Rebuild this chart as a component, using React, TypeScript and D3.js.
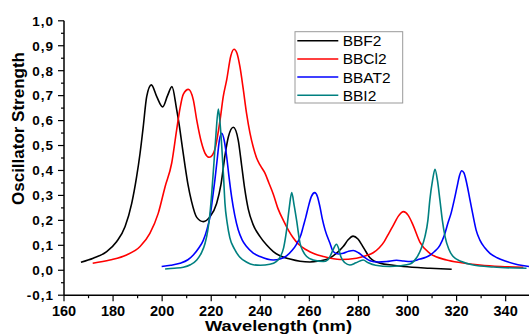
import React from "react";
import * as d3 from "d3";

const seriesNames = ["BBF2", "BBCl2", "BBAT2", "BBI2"];
const seriesColors = ["#000000", "#ff0000", "#0000ff", "#008080"];

const bbf2: [number, number][] = [
  [166.9, 0.032], [171.9, 0.048], [177.4, 0.075], [181.5, 0.115], [184.9, 0.175], [187.6, 0.268],
  [189.6, 0.375], [191.0, 0.469], [192.3, 0.576], [193.7, 0.696], [195.6, 0.743], [197.8, 0.696],
  [200.2, 0.655], [202.2, 0.700], [204.0, 0.736], [205.9, 0.645], [207.0, 0.580], [208.0, 0.510],
  [209.3, 0.420], [210.5, 0.345], [212.0, 0.275], [214.1, 0.212], [216.8, 0.195], [219.5, 0.215],
  [222.2, 0.268], [224.0, 0.345], [225.6, 0.460], [227.0, 0.535], [229.0, 0.573], [231.0, 0.522],
  [232.4, 0.420], [233.6, 0.330], [235.1, 0.245], [237.0, 0.185], [239.9, 0.135], [242.6, 0.101],
  [245.3, 0.075], [248.0, 0.058], [252.1, 0.045], [256.2, 0.036], [260.2, 0.033], [264.3, 0.038],
  [267.5, 0.045], [269.7, 0.058], [271.8, 0.075], [273.8, 0.095], [275.8, 0.122], [277.8, 0.137],
  [279.8, 0.125], [281.5, 0.100], [283.0, 0.075], [284.7, 0.050], [288.8, 0.028], [294.2, 0.020],
  [298.3, 0.015], [309.1, 0.008], [318.0, 0.004],
];

const bbcl2: [number, number][] = [
  [171.7, 0.028], [178.7, 0.041], [185.5, 0.061], [191.0, 0.095], [195.0, 0.148], [198.4, 0.228],
  [201.2, 0.335], [203.9, 0.430], [205.9, 0.562], [207.3, 0.650], [208.6, 0.705], [210.7, 0.725],
  [212.7, 0.683], [214.1, 0.602], [216.1, 0.509], [217.5, 0.469], [219.2, 0.453], [220.5, 0.462],
  [221.5, 0.485], [223.6, 0.602], [224.9, 0.696], [226.3, 0.763], [228.0, 0.860], [229.3, 0.886],
  [230.5, 0.870], [231.7, 0.816], [233.0, 0.730], [234.4, 0.629], [235.8, 0.550], [237.1, 0.495],
  [238.5, 0.450], [240.0, 0.420], [241.9, 0.389], [243.5, 0.350], [245.3, 0.305], [247.3, 0.245],
  [249.4, 0.200], [251.5, 0.160], [253.4, 0.130], [255.5, 0.105], [258.9, 0.081], [262.0, 0.066],
  [265.7, 0.055], [272.5, 0.043], [279.2, 0.048], [283.0, 0.058], [286.0, 0.070], [288.5, 0.090],
  [290.5, 0.115], [292.5, 0.150], [294.2, 0.180], [296.5, 0.220], [298.3, 0.235], [300.3, 0.220],
  [302.3, 0.180], [305.1, 0.112], [309.1, 0.068], [315.9, 0.041], [322.0, 0.030], [329.5, 0.021],
  [338.0, 0.015], [347.2, 0.012],
];

const bbat2: [number, number][] = [
  [199.8, 0.015], [203.5, 0.020], [207.3, 0.028], [210.5, 0.042], [212.7, 0.061], [215.0, 0.090],
  [216.8, 0.121], [218.3, 0.165], [219.5, 0.215], [220.5, 0.285], [221.5, 0.362], [222.5, 0.450],
  [223.3, 0.520], [224.3, 0.549], [225.3, 0.520], [226.3, 0.455], [227.3, 0.370], [228.3, 0.295],
  [229.6, 0.220], [231.0, 0.162], [232.6, 0.122], [234.4, 0.095], [237.0, 0.070], [239.9, 0.055],
  [245.3, 0.041], [248.0, 0.045], [250.7, 0.058], [253.0, 0.080], [254.8, 0.105], [256.5, 0.140],
  [257.5, 0.175], [258.6, 0.215], [259.6, 0.255], [260.8, 0.295], [262.2, 0.311], [263.3, 0.295],
  [264.3, 0.255], [265.3, 0.205], [266.4, 0.162], [268.4, 0.108], [269.7, 0.075], [271.8, 0.065],
  [273.8, 0.068], [276.0, 0.076], [277.9, 0.079], [280.0, 0.070], [282.0, 0.055], [284.7, 0.038],
  [288.0, 0.033], [291.5, 0.035], [295.5, 0.040], [298.5, 0.037], [301.0, 0.035], [305.1, 0.045],
  [307.5, 0.052], [309.1, 0.060], [311.0, 0.075], [313.2, 0.100], [315.0, 0.140], [316.5, 0.190],
  [317.8, 0.230], [319.0, 0.280], [320.2, 0.335], [321.2, 0.380], [322.1, 0.399], [323.0, 0.390],
  [324.1, 0.350], [325.5, 0.280], [326.8, 0.215], [328.0, 0.160], [329.5, 0.121], [331.5, 0.090],
  [333.6, 0.068], [336.5, 0.050], [340.4, 0.035], [345.0, 0.022], [349.5, 0.015],
];

const bbi2: [number, number][] = [
  [201.2, 0.005], [205.0, 0.008], [208.6, 0.012], [211.5, 0.022], [214.1, 0.041], [216.0, 0.070],
  [217.5, 0.108], [218.6, 0.160], [219.5, 0.228], [220.3, 0.320], [221.1, 0.429], [221.9, 0.540],
  [222.9, 0.646], [223.6, 0.590], [224.3, 0.495], [225.0, 0.380], [225.6, 0.268], [226.5, 0.190],
  [227.6, 0.130], [229.5, 0.085], [231.7, 0.052], [234.5, 0.032], [237.1, 0.022], [240.0, 0.020],
  [243.9, 0.024], [246.5, 0.035], [248.2, 0.055], [249.5, 0.090], [250.7, 0.160], [251.8, 0.250],
  [252.8, 0.311], [253.8, 0.260], [254.8, 0.200], [256.2, 0.108], [257.5, 0.075], [258.9, 0.055],
  [261.6, 0.041], [265.7, 0.035], [267.5, 0.042], [268.4, 0.055], [269.8, 0.085], [271.0, 0.104],
  [272.0, 0.085], [272.8, 0.055], [274.5, 0.030], [276.5, 0.021], [279.0, 0.030], [281.9, 0.041],
  [284.0, 0.030], [287.0, 0.020], [292.8, 0.015], [297.0, 0.018], [301.0, 0.025], [303.7, 0.050],
  [305.5, 0.085], [307.1, 0.135], [308.3, 0.200], [309.1, 0.282], [310.2, 0.360], [311.2, 0.405],
  [312.2, 0.360], [313.2, 0.282], [314.2, 0.200], [315.3, 0.135], [316.8, 0.085], [318.6, 0.055],
  [322.0, 0.035], [326.8, 0.021], [335.0, 0.013], [348.5, 0.008],
];

const allSeries = [bbf2, bbcl2, bbat2, bbi2];

const xMajorTicks = [160, 180, 200, 220, 240, 260, 280, 300, 320, 340];
const xMinorTicks = [170, 190, 210, 230, 250, 270, 290, 310, 330, 350];
const yMajorTicks = [-0.1, 0.0, 0.1, 0.2, 0.3, 0.4, 0.5, 0.6, 0.7, 0.8, 0.9, 1.0];
const yMinorTicks = [-0.05, 0.05, 0.15, 0.25, 0.35, 0.45, 0.55, 0.65, 0.75, 0.85, 0.95];

const W = 529;
const H = 336;
const FONT = "'Liberation Sans', Arial, sans-serif";

export default function App() {
  const x = d3.scaleLinear().domain([160, 350]).range([64, 530.2]);
  const y = d3.scaleLinear().domain([-0.1, 1.0]).range([295.2, 20.8]);
  const line = d3
    .line<[number, number]>()
    .x((d) => x(d[0]))
    .y((d) => y(d[1]))
    .curve(d3.curveMonotoneX);

  const fmt = (v: number) => v.toFixed(1).replace(".", ",");
  const legendX = 295;
  const legendY = 31.7;
  const rowH = 18.2;

  return (
    <svg width={W} height={H} style={{ position: "absolute", left: 0, top: 0 }} fontFamily={FONT}>
      <rect x={0} y={0} width={W} height={H} fill="#fff" />
      {allSeries.map((s, i) => (
        <path key={i} d={line(s) || ""} fill="none" stroke={seriesColors[i]} strokeWidth={1.6} />
      ))}
      {/* axes */}
      <line x1={64} x2={64} y1={y(1.0)} y2={y(-0.1)} stroke="#000" strokeWidth={1.5} />
      <line x1={64} x2={W} y1={y(-0.1)} y2={y(-0.1)} stroke="#000" strokeWidth={1.5} />
      {yMajorTicks.map((t) => (
        <g key={"ym" + t}>
          <line x1={58} x2={64} y1={y(t)} y2={y(t)} stroke="#000" strokeWidth={1.2} />
          <text x={54} y={y(t)} dy="0.36em" textAnchor="end" fontSize={13.5} fontWeight="bold" letterSpacing={1}>
            {fmt(t)}
          </text>
        </g>
      ))}
      {yMinorTicks.map((t) => (
        <line key={"yn" + t} x1={61} x2={64} y1={y(t)} y2={y(t)} stroke="#000" strokeWidth={1.2} />
      ))}
      {xMajorTicks.map((t) => (
        <g key={"xm" + t}>
          <line x1={x(t)} x2={x(t)} y1={y(-0.1)} y2={y(-0.1) + 6} stroke="#000" strokeWidth={1.2} />
          <text x={x(t)} y={316} textAnchor="middle" fontSize={14.5} fontWeight="bold">
            {t}
          </text>
        </g>
      ))}
      {xMinorTicks.map((t) => (
        <line key={"xn" + t} x1={x(t)} x2={x(t)} y1={y(-0.1)} y2={y(-0.1) + 3} stroke="#000" strokeWidth={1.2} />
      ))}
      <text x={278.5} y={331} textAnchor="middle" fontSize={14.5} fontWeight="bold" textLength={147} lengthAdjust="spacingAndGlyphs">
        Wavelength (nm)
      </text>
      <text
        transform="translate(24,128.5) rotate(-90)"
        textAnchor="middle"
        fontSize={16}
        fontWeight="bold"
        textLength={153}
        lengthAdjust="spacingAndGlyphs"
      >
        Oscillator Strength
      </text>
      {/* legend */}
      <rect x={legendX} y={legendY} width={107.7} height={71.3} fill="#fff" stroke="#999" strokeWidth={1} />
      {seriesNames.map((n, i) => (
        <g key={n}>
          <line x1={297.3} x2={338.3} y1={40.7 + i * rowH} y2={40.7 + i * rowH} stroke={seriesColors[i]} strokeWidth={1.5} />
          <text x={342.7} y={40.7 + i * rowH} dy="0.36em" fontSize={15.5}>
            {n}
          </text>
        </g>
      ))}
    </svg>
  );
}
